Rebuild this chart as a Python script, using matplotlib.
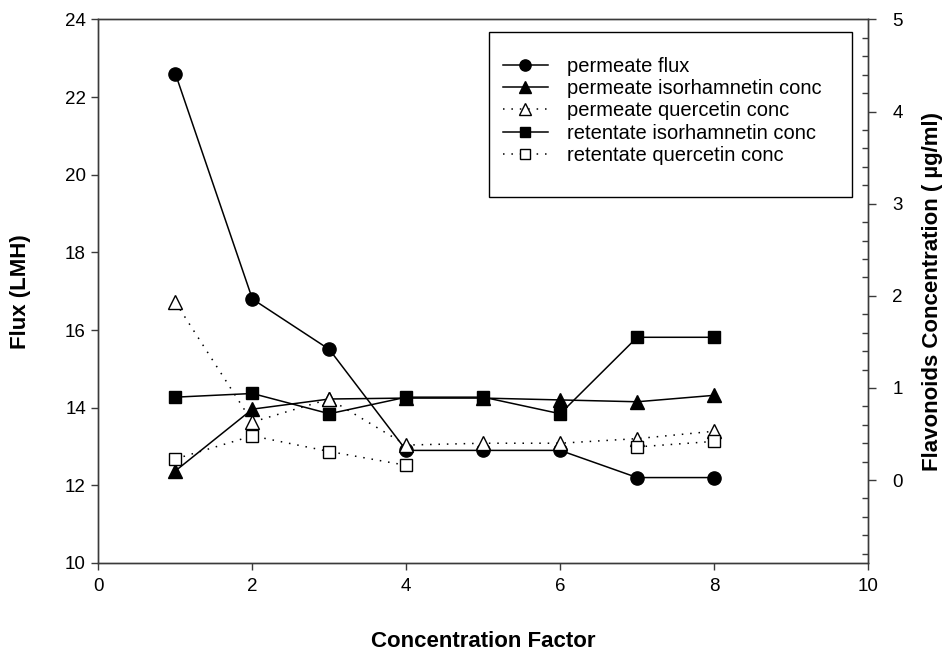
import numpy as np
import matplotlib
matplotlib.use("Agg")
import matplotlib.pyplot as plt
from matplotlib.patches import Rectangle
from matplotlib.ticker import MultipleLocator

plt.rcParams['font.family'] = ['Liberation Sans', 'DejaVu Sans']

# Concentration factor (x)
cf = [1, 2, 3, 4, 5, 6, 7, 8]

# Permeate flux, LMH (left axis)
permeate_flux = [22.6, 16.8, 15.5, 12.9, 12.9, 12.9, 12.2, 12.2]

# Flavonoid concentrations, ug/ml (right axis)
permeate_isorhamnetin = [0.10, 0.77, 0.88, 0.89, 0.89, 0.87, 0.85, 0.92]
permeate_quercetin = [1.93, 0.63, 0.88, 0.38, 0.40, 0.40, 0.45, 0.53]
retentate_isorhamnetin = [0.90, 0.94, 0.72, 0.90, 0.90, 0.72, 1.55, 1.55]
retentate_quercetin = [0.23, 0.48, 0.31, 0.16, np.nan, np.nan, 0.36, 0.42]

labels = ["permeate flux", "permeate isorhamnetin conc", "permeate quercetin conc",
          "retentate isorhamnetin conc", "retentate quercetin conc"]

axis_color = '#3a3a3a'
dotted = (0, (1, 4.5))
tick_fs = 13.5
legend_fs = 14.5
label_fs = 16

fig = plt.figure(figsize=(9.48, 6.56), dpi=100)
ax = fig.add_axes([0.1039, 0.1418, 0.8117, 0.8285])
ax2 = ax.twinx()

h0, = ax.plot(cf, permeate_flux, color='black', lw=1.1, marker='o', ms=9.5,
              mfc='black', mec='black', label=labels[0])

h1, = ax2.plot(cf, permeate_isorhamnetin, color='black', lw=1.1, marker='^', ms=9.5,
               mfc='black', mec='black', label=labels[1])
h2, = ax2.plot(cf, permeate_quercetin, color='black', lw=1.1, ls=dotted, marker='^',
               ms=9.5, mfc='white', mec='black', mew=1.0, label=labels[2])
h3, = ax2.plot(cf, retentate_isorhamnetin, color='black', lw=1.1, marker='s', ms=8.5,
               mfc='black', mec='black', label=labels[3])
h4, = ax2.plot(cf, retentate_quercetin, color='black', lw=1.1, ls=dotted, marker='s',
               ms=8.5, mfc='white', mec='black', mew=1.0, label=labels[4])

ax.set_xlim(0, 10)
ax.set_ylim(10, 24)
ax2.set_ylim(-0.9, 5)

ax.xaxis.set_major_locator(MultipleLocator(2))
ax.yaxis.set_major_locator(MultipleLocator(2))
ax2.yaxis.set_major_locator(MultipleLocator(1))
ax2.yaxis.set_minor_locator(MultipleLocator(0.2))

for a in (ax, ax2):
    for s in a.spines.values():
        s.set_color(axis_color)
        s.set_linewidth(1.0)

ax.tick_params(axis='both', which='major', direction='out', length=5, width=1.0,
               color=axis_color, labelsize=tick_fs)
ax.tick_params(axis='y', pad=4)
ax.tick_params(axis='x', pad=6)
ax2.tick_params(axis='y', which='major', direction='out', length=5.5, width=1.0,
                color=axis_color, labelsize=tick_fs, pad=12)
ax2.tick_params(axis='y', which='minor', direction='in', length=4, width=1.0,
                color=axis_color)

ax.set_xlabel("Concentration Factor", fontsize=label_fs, fontweight='bold')
ax.xaxis.set_label_coords(0.5, -0.125)
ax.set_ylabel("Flux (LMH)", fontsize=label_fs, fontweight='bold')
ax.yaxis.set_label_coords(-0.088, 0.5)
ax2.set_ylabel("Flavonoids Concentration ( \u00b5g/ml)", fontsize=label_fs,
               fontweight='bold')
ax2.yaxis.set_label_coords(1.070, 0.5)

# Legend box
ax2.add_patch(Rectangle((0.5075, 0.673), 0.4715, 0.304, transform=ax2.transAxes,
                        fill=False, edgecolor='black', lw=1.0, zorder=5))
leg = ax2.legend(handles=[h0, h1, h2, h3, h4], loc='upper left',
                 bbox_to_anchor=(0.5257, 0.931), frameon=False, fontsize=legend_fs,
                 handlelength=2.23, handletextpad=0.94, labelspacing=0.16,
                 borderpad=0, borderaxespad=0, numpoints=1, markerscale=0.85)

fig.savefig("out.png", dpi=100)
